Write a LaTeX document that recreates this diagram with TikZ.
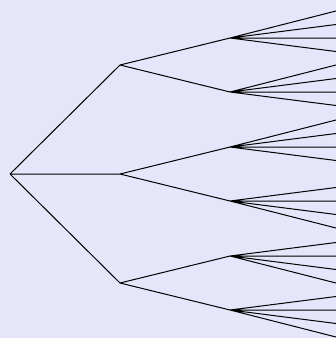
\documentclass[tikz,border=0pt]{standalone}
\usetikzlibrary{positioning, calc}

\definecolor{bgcolor}{RGB}{230,230,250}

\begin{document}
\begin{tikzpicture}[x=1pt, y=-1pt, thick]
  % Styles
  \tikzstyle{branch}=[draw=black, line width=1pt]
  \tikzset{knot/.style={inner sep=0pt, minimum size=0pt}}

  % Background and frame
  \fill[bgcolor] (0,0) rectangle (336,338);
  \useasboundingbox (0,0) rectangle (336,338);
  \clip (0,0) rectangle (336,338);

  % --- Nodes ---
  \node[knot] (Root) at (10,174) {};

  % First level
  \node[knot] (A) at (120,65) {};
  \node[knot] (B) at (120,174) {};
  \node[knot] (C) at (120,283) {};

  % Second level
  \node[knot] (A1) at (230,38) {};
  \node[knot] (A2) at (230,92) {};
  \node[knot] (B1) at (230,147) {};
  \node[knot] (B2) at (230,201) {};
  \node[knot] (C1) at (230,256) {};
  \node[knot] (C2) at (230,310) {};

  % Leaves (run out at the right edge)
  \node[knot] (A1a) at (336,11) {};    \node[knot] (A1b) at (336,24.5) {};
  \node[knot] (A1c) at (336,38) {};    \node[knot] (A1d) at (336,51.5) {};
  \node[knot] (A2a) at (336,65) {};    \node[knot] (A2b) at (336,78.5) {};
  \node[knot] (A2c) at (336,92) {};    \node[knot] (A2d) at (336,105.5) {};
  \node[knot] (B1a) at (336,120) {};   \node[knot] (B1b) at (336,133.5) {};
  \node[knot] (B1c) at (336,147) {};   \node[knot] (B1d) at (336,160.5) {};
  \node[knot] (B2a) at (336,187.5) {}; \node[knot] (B2b) at (336,201) {};
  \node[knot] (B2c) at (336,214.5) {}; \node[knot] (B2d) at (336,228) {};
  \node[knot] (C1a) at (336,242.5) {}; \node[knot] (C1b) at (336,256) {};
  \node[knot] (C1c) at (336,269.5) {}; \node[knot] (C1d) at (336,283) {};
  \node[knot] (C2a) at (336,296.5) {}; \node[knot] (C2b) at (336,310) {};
  \node[knot] (C2c) at (336,323.5) {}; \node[knot] (C2d) at (336,337) {};

  % --- Branches ---

  % 1. Root to first level
  \path[branch]
    (Root.center) -- (A.center)
    (Root.center) -- (B.center)
    (Root.center) -- (C.center);

  % 2. First to second level
  \path[branch]
    (A.center) -- (A1.center)  (A.center) -- (A2.center)
    (B.center) -- (B1.center)  (B.center) -- (B2.center)
    (C.center) -- (C1.center)  (C.center) -- (C2.center);

  % 3. Second level to leaves
  \path[branch]
    (A1.center) -- (A1a.center)  (A1.center) -- (A1b.center)
    (A1.center) -- (A1c.center)  (A1.center) -- (A1d.center)
    (A2.center) -- (A2a.center)  (A2.center) -- (A2b.center)
    (A2.center) -- (A2c.center)  (A2.center) -- (A2d.center)
    (B1.center) -- (B1a.center)  (B1.center) -- (B1b.center)
    (B1.center) -- (B1c.center)  (B1.center) -- (B1d.center)
    (B2.center) -- (B2a.center)  (B2.center) -- (B2b.center)
    (B2.center) -- (B2c.center)  (B2.center) -- (B2d.center)
    (C1.center) -- (C1a.center)  (C1.center) -- (C1b.center)
    (C1.center) -- (C1c.center)  (C1.center) -- (C1d.center)
    (C2.center) -- (C2a.center)  (C2.center) -- (C2b.center)
    (C2.center) -- (C2c.center)  (C2.center) -- (C2d.center);

\end{tikzpicture}
\end{document}
